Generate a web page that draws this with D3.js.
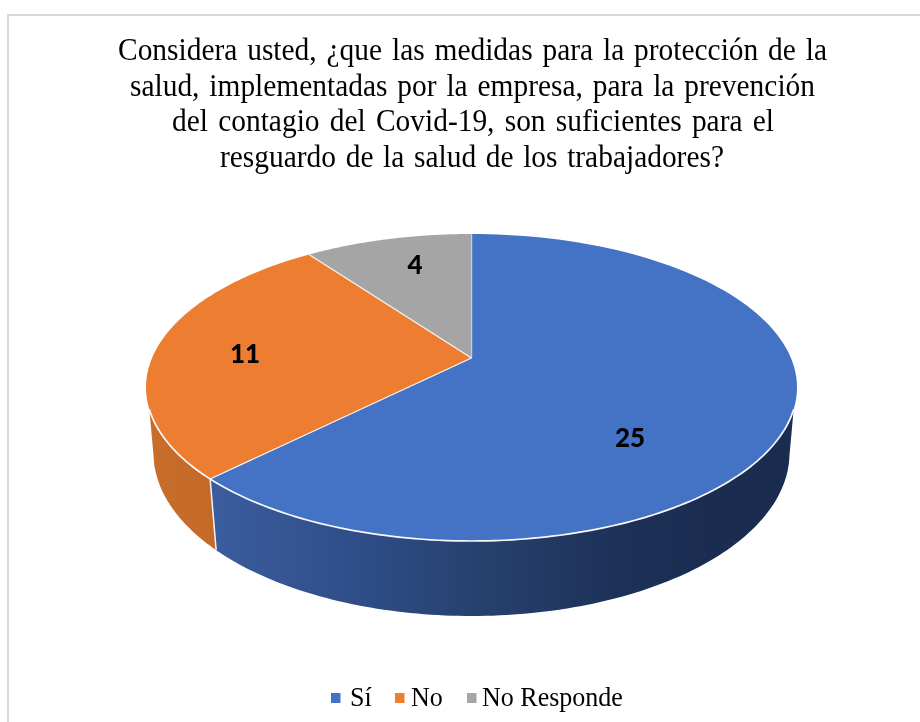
<!DOCTYPE html>
<html>
<head>
<meta charset="utf-8">
<script src="https://cdn.jsdelivr.net/npm/d3@7"></script>
<style>
html, body { margin: 0; padding: 0; background: #fff; }
svg { display: block; filter: blur(0.5px); }
</style>
</head>
<body>
<div id="chart"></div>
<script>
var categories = ["Sí", "No", "No Responde"];
var values = [25, 11, 4];
var colors = ["#4472C4", "#ED7D31", "#A5A5A5"];
var titleLines = [
    "Considera usted, ¿que las medidas para la protección de la",
    "salud, implementadas por la empresa, para la prevención",
    "del contagio del Covid-19, son suficientes para el",
    "resguardo de la salud de los trabajadores?"
];
// left and right end of each title line, the original is justified
var titleExtents = [[118, 827], [130, 815], [172, 774], [220, 724]];

var width = 920, height = 722;
var svg = d3.select("#chart").append("svg").attr("width", width).attr("height", height);

// chart frame, only top and left are inside the picture
svg.append("path")
    .attr("d", d3.line()([[8, height], [8, 15], [width, 15]]))
    .attr("fill", "none").attr("stroke", "#d9d9d9").attr("stroke-width", 2);

// the screenshot is squeezed sideways, so the serif text is too
var squeeze = 0.92;

// title
titleLines.forEach(function(line, i) {
    var t = svg.append("text")
        .attr("transform", "translate(" + titleExtents[i][0] + "," + (60 + i * 35.5) + ") scale(" + squeeze + ",1)")
        .attr("font-family", "Liberation Serif")
        .attr("font-size", 32)
        .attr("fill", "#000")
        .text(line);
    var gaps = line.split(" ").length - 1;
    var target = (titleExtents[i][1] - titleExtents[i][0]) / squeeze;
    t.attr("word-spacing", (target - t.node().getComputedTextLength()) / gaps);
});

// perspective of the disc: the centre of the pie is above the centre of the ellipse
var persp = -0.192;
var topFace = {cx: 471.5, cy: 387.5, rx: 325.5, ry: 153.5};
var bottomFace = {cx: 471.5, cy: 453, rx: 318, ry: 163};

function project(face, r, angle) {
    var u = r * Math.sin(angle), v = -r * Math.cos(angle);
    var d = 1 + persp * v;
    return [
        face.cx + face.rx * u * Math.sqrt(1 - persp * persp) / d,
        face.cy + face.ry * (v + persp) / d
    ];
}

function rim(face, a0, a1) {
    return d3.range(0, 121).map(function(i) {
        return project(face, 1, a0 + (a1 - a0) * i / 120);
    });
}

var arcs = d3.pie().sort(null)(values);

// the wall is only seen between these angles, the lower rim turns a bit further
var rad = Math.PI / 180;
var wallStart = 109 * rad, wallEnd = 251 * rad;
var lowStart = 102 * rad, lowEnd = 258 * rad;

var defs = svg.append("defs");
var blueGrad = defs.append("linearGradient").attr("id", "wall0")
    .attr("gradientUnits", "userSpaceOnUse").attr("x1", 210).attr("x2", 797).attr("y1", 0).attr("y2", 0);
[[0, "#3B5C9E"], [0.25, "#2F4E88"], [0.45, "#27416F"], [0.7, "#1D3158"], [0.85, "#1A2C50"], [1, "#1A2C50"]].forEach(function(s) {
    blueGrad.append("stop").attr("offset", s[0]).attr("stop-color", s[1]);
});
var orangeGrad = defs.append("linearGradient").attr("id", "wall1")
    .attr("gradientUnits", "userSpaceOnUse").attr("x1", 147).attr("x2", 217).attr("y1", 0).attr("y2", 0);
[[0, "#C86D2B"], [1, "#C46A28"]].forEach(function(s) {
    orangeGrad.append("stop").attr("offset", s[0]).attr("stop-color", s[1]);
});

// walls
arcs.forEach(function(d, i) {
    var a0 = Math.max(d.startAngle, wallStart), a1 = Math.min(d.endAngle, wallEnd);
    if (a0 >= a1) return;
    var b0 = Math.max(d.startAngle, lowStart), b1 = Math.min(d.endAngle, lowEnd);
    var pts = rim(topFace, a0, a1).concat(rim(bottomFace, b0, b1).reverse());
    svg.append("path")
        .attr("d", d3.line()(pts) + "Z")
        .attr("fill", "url(#wall" + i + ")")
        .attr("stroke", "none");
});

// white seam between the walls
var seam = arcs[0].endAngle;
svg.append("path")
    .attr("d", d3.line()([project(topFace, 1, seam), project(bottomFace, 1, seam)]))
    .attr("stroke", "#f4f4f4").attr("stroke-width", 1.5).attr("fill", "none");

// top faces
arcs.forEach(function(d, i) {
    var pts = [project(topFace, 0, 0)].concat(rim(topFace, d.startAngle, d.endAngle));
    svg.append("path")
        .attr("d", d3.line()(pts) + "Z")
        .attr("fill", colors[i])
        .attr("stroke", "none");
    // seam along the radius
    svg.append("path")
        .attr("d", d3.line()([project(topFace, 0, 0), project(topFace, 1, d.startAngle)]))
        .attr("stroke", "#f4f4f4").attr("stroke-width", 1.3).attr("fill", "none");
});

// white rim on the front edge
svg.append("path")
    .attr("d", d3.line()(rim(topFace, wallStart, wallEnd)))
    .attr("stroke", "#f8f8f8").attr("stroke-width", 1.7).attr("fill", "none");

// value labels
var labelPos = [[630, 438], [245, 354], [415, 265]];
values.forEach(function(v, i) {
    svg.append("text")
        .attr("x", labelPos[i][0])
        .attr("y", labelPos[i][1])
        .attr("dy", "0.35em")
        .attr("text-anchor", "middle")
        .attr("font-family", "Lato")
        .attr("font-weight", 900)
        .attr("font-size", 26)
        .attr("fill", "#000")
        .text(v);
});

// legend
var legendX = [[331, 350], [395, 411], [467, 482]];
categories.forEach(function(c, i) {
    svg.append("rect")
        .attr("x", legendX[i][0]).attr("y", 693)
        .attr("width", 9.5).attr("height", 10)
        .attr("fill", colors[i]);
    svg.append("text")
        .attr("transform", "translate(" + legendX[i][1] + ",706) scale(0.93,1)")
        .attr("font-family", "Liberation Serif")
        .attr("font-size", 28)
        .attr("fill", "#000")
        .text(c);
});
</script>
</body>
</html>
